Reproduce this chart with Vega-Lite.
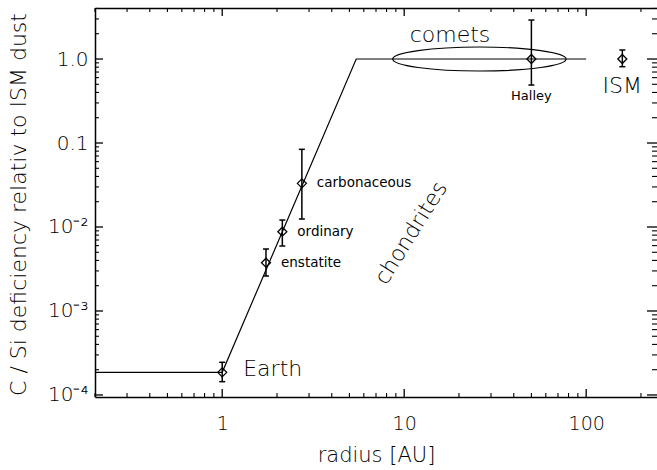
{
  "$schema": "https://vega.github.io/schema/vega-lite/v6.json",
  "width": 562,
  "height": 389,
  "autosize": {"type": "none"},
  "padding": {"left": 95, "top": 8, "right": 0, "bottom": 73},
  "background": "white",
  "config": {
    "view": {"stroke": null},
    "font": "DejaVu Sans",
    "axis": {"grid": false, "ticks": false, "domainColor": "black", "domainWidth": 1.5, "labelColor": "black", "titleColor": "black", "labelFont": "DejaVu Sans", "titleFont": "DejaVu Sans", "titleFontWeight": 200, "labelFontWeight": 200},
    "text": {"font": "DejaVu Sans", "color": "black", "fontWeight": 200}
  },
  "datasets": {
    "pts": [
      {"name": "Earth", "r": 1, "v": 0.000186, "lo": 0.000144, "hi": 0.000245},
      {"name": "enstatite", "r": 1.74, "v": 0.00376, "lo": 0.00261, "hi": 0.00547},
      {"name": "ordinary", "r": 2.14, "v": 0.00879, "lo": 0.00594, "hi": 0.0121},
      {"name": "carbonaceous", "r": 2.74, "v": 0.0331, "lo": 0.01245, "hi": 0.0841},
      {"name": "Halley", "r": 50, "v": 1.0, "lo": 0.49, "hi": 2.91},
      {"name": "ISM", "r": 158, "v": 1.0, "lo": 0.81, "hi": 1.28}
    ],
    "model": [
      {"r": 0.2, "v": 0.000186},
      {"r": 1, "v": 0.000186},
      {"r": 5.45, "v": 1.0},
      {"r": 100, "v": 1.0}
    ],
    "notes": [
      {"t": "comets", "r": 17.85, "v": 1.58, "g": "comets"},
      {"t": "chondrites", "r": 10.9, "v": 0.0085, "g": "rot"},
      {"t": "ellipse", "r": 25.9, "v": 1.0, "g": "ell"}
    ],
    "xMajor": [{"r": 1}, {"r": 10}, {"r": 100}],
    "xMinor": [{"r": 0.2},{"r": 0.3},{"r": 0.4},{"r": 0.5},{"r": 0.6},{"r": 0.7},{"r": 0.8},{"r": 0.9},{"r": 2},{"r": 3},{"r": 4},{"r": 5},{"r": 6},{"r": 7},{"r": 8},{"r": 9},{"r": 20},{"r": 30},{"r": 40},{"r": 50},{"r": 60},{"r": 70},{"r": 80},{"r": 90},{"r": 200}],
    "yMajor": [{"v": 0.0001}, {"v": 0.001}, {"v": 0.01}, {"v": 0.1}, {"v": 1}],
    "yMinor": [{"v": 0.0002},{"v": 0.0003},{"v": 0.0004},{"v": 0.0005},{"v": 0.0006},{"v": 0.0007},{"v": 0.0008},{"v": 0.0009},{"v": 0.002},{"v": 0.003},{"v": 0.004},{"v": 0.005},{"v": 0.006},{"v": 0.007},{"v": 0.008},{"v": 0.009},{"v": 0.02},{"v": 0.03},{"v": 0.04},{"v": 0.05},{"v": 0.06},{"v": 0.07},{"v": 0.08},{"v": 0.09},{"v": 0.2},{"v": 0.3},{"v": 0.4},{"v": 0.5},{"v": 0.6},{"v": 0.7},{"v": 0.8},{"v": 0.9},{"v": 2},{"v": 3},{"v": 4}]
  },
  "resolve": {"axis": {"x": "independent", "y": "independent"}},
  "layer": [
    {
      "data": {"name": "model"},
      "mark": {"type": "line", "color": "black", "strokeWidth": 1.2},
      "encoding": {
        "x": {"field": "r", "type": "quantitative", "scale": {"type": "log", "domain": [0.2, 245], "nice": false},
          "axis": {"orient": "bottom", "values": [1, 10, 100],
            "labelExpr": "format(datum.value, 'd')",
            "labelFontSize": 19, "labelPadding": 17, "labelBaseline": "top", "labelOverlap": false, "labelFlush": false,
            "title": "radius [AU]", "titleFontSize": 21, "titleY": 64, "titleBaseline": "alphabetic"}},
        "y": {"field": "v", "type": "quantitative", "scale": {"type": "log", "domain": [0.0000946, 4.05], "nice": false},
          "axis": {"orient": "left", "values": [0.0001, 0.001, 0.01, 0.1, 1],
            "labelExpr": "datum.value == 1 ? '1.0' : datum.value == 0.1 ? '0.1' : datum.value == 0.01 ? '10⁻²' : datum.value == 0.001 ? '10⁻³' : '10⁻⁴'",
            "labelFontSize": 20, "labelPadding": 7, "labelBaseline": "middle", "labelOverlap": false, "labelFlush": false,
            "title": "C / Si deficiency relativ to ISM dust", "titleFontSize": 22, "titleX": -77, "titleY": 196, "titleAngle": -90, "titleBaseline": "middle", "titleAlign": "center"}}
      }
    },
    {
      "data": {"name": "notes"},
      "transform": [{"filter": "datum.g == 'ell'"}],
      "mark": {"type": "point", "shape": "M-1,0A1,0.1384,0,1,0,1,0A1,0.1384,0,1,0,-1,0Z", "size": 30069, "filled": false, "color": "black", "strokeWidth": 1.2, "opacity": 1},
      "encoding": {
        "x": {"field": "r", "type": "quantitative", "scale": {"type": "log", "domain": [0.2, 245], "nice": false},
          "axis": {"orient": "top", "labels": false, "title": null, "values": [1, 10, 100]}},
        "y": {"field": "v", "type": "quantitative", "scale": {"type": "log", "domain": [0.0000946, 4.05], "nice": false}, "axis": null}
      }
    },
    {
      "data": {"name": "xMajor"},
      "mark": {"type": "point", "shape": "M0,0L0,-2", "size": 64, "filled": false, "color": "black", "strokeWidth": 1.3, "opacity": 1},
      "encoding": {
        "x": {"field": "r", "type": "quantitative", "scale": {"type": "log", "domain": [0.2, 245], "nice": false}, "axis": null},
        "y": {"datum": 0.0000946, "type": "quantitative", "scale": {"type": "log", "domain": [0.0000946, 4.05], "nice": false}, "axis": null}
      }
    },
    {
      "data": {"name": "xMajor"},
      "mark": {"type": "point", "shape": "M0,0L0,2", "size": 64, "filled": false, "color": "black", "strokeWidth": 1.3, "opacity": 1},
      "encoding": {
        "x": {"field": "r", "type": "quantitative", "scale": {"type": "log", "domain": [0.2, 245], "nice": false}, "axis": null},
        "y": {"datum": 4.05, "type": "quantitative", "scale": {"type": "log", "domain": [0.0000946, 4.05], "nice": false}, "axis": null}
      }
    },
    {
      "data": {"name": "xMinor"},
      "mark": {"type": "point", "shape": "M0,0L0,-2", "size": 16, "filled": false, "color": "black", "strokeWidth": 1.1, "opacity": 1},
      "encoding": {
        "x": {"field": "r", "type": "quantitative", "scale": {"type": "log", "domain": [0.2, 245], "nice": false}, "axis": null},
        "y": {"datum": 0.0000946, "type": "quantitative", "scale": {"type": "log", "domain": [0.0000946, 4.05], "nice": false}, "axis": null}
      }
    },
    {
      "data": {"name": "xMinor"},
      "mark": {"type": "point", "shape": "M0,0L0,2", "size": 16, "filled": false, "color": "black", "strokeWidth": 1.1, "opacity": 1},
      "encoding": {
        "x": {"field": "r", "type": "quantitative", "scale": {"type": "log", "domain": [0.2, 245], "nice": false}, "axis": null},
        "y": {"datum": 4.05, "type": "quantitative", "scale": {"type": "log", "domain": [0.0000946, 4.05], "nice": false}, "axis": null}
      }
    },
    {
      "data": {"name": "yMajor"},
      "mark": {"type": "point", "shape": "M0,0L2,0", "size": 64, "filled": false, "color": "black", "strokeWidth": 1.3, "opacity": 1},
      "encoding": {
        "y": {"field": "v", "type": "quantitative", "scale": {"type": "log", "domain": [0.0000946, 4.05], "nice": false}, "axis": null},
        "x": {"datum": 0.2, "type": "quantitative", "scale": {"type": "log", "domain": [0.2, 245], "nice": false}, "axis": null}
      }
    },
    {
      "data": {"name": "yMajor"},
      "mark": {"type": "point", "shape": "M0,0L-2,0", "size": 100, "filled": false, "color": "black", "strokeWidth": 1.3, "opacity": 1},
      "encoding": {
        "y": {"field": "v", "type": "quantitative", "scale": {"type": "log", "domain": [0.0000946, 4.05], "nice": false}, "axis": null},
        "x": {"datum": 245, "type": "quantitative", "scale": {"type": "log", "domain": [0.2, 245], "nice": false}, "axis": null}
      }
    },
    {
      "data": {"name": "yMinor"},
      "mark": {"type": "point", "shape": "M0,0L2,0", "size": 16, "filled": false, "color": "black", "strokeWidth": 1.1, "opacity": 1},
      "encoding": {
        "y": {"field": "v", "type": "quantitative", "scale": {"type": "log", "domain": [0.0000946, 4.05], "nice": false}, "axis": null},
        "x": {"datum": 0.2, "type": "quantitative", "scale": {"type": "log", "domain": [0.2, 245], "nice": false}, "axis": null}
      }
    },
    {
      "data": {"name": "yMinor"},
      "mark": {"type": "point", "shape": "M0,0L-2,0", "size": 25, "filled": false, "color": "black", "strokeWidth": 1.1, "opacity": 1},
      "encoding": {
        "y": {"field": "v", "type": "quantitative", "scale": {"type": "log", "domain": [0.0000946, 4.05], "nice": false}, "axis": null},
        "x": {"datum": 245, "type": "quantitative", "scale": {"type": "log", "domain": [0.2, 245], "nice": false}, "axis": null}
      }
    },
    {
      "data": {"name": "pts"},
      "mark": {"type": "rule", "color": "black", "strokeWidth": 1.5},
      "encoding": {
        "x": {"field": "r", "type": "quantitative", "scale": {"type": "log", "domain": [0.2, 245], "nice": false}, "axis": null},
        "y": {"field": "lo", "type": "quantitative", "scale": {"type": "log", "domain": [0.0000946, 4.05], "nice": false}, "axis": null},
        "y2": {"field": "hi"}
      }
    },
    {
      "data": {"name": "pts"},
      "mark": {"type": "point", "shape": "M-1,0L1,0", "size": 36, "filled": false, "color": "black", "strokeWidth": 1.5, "opacity": 1},
      "encoding": {
        "x": {"field": "r", "type": "quantitative", "scale": {"type": "log", "domain": [0.2, 245], "nice": false}, "axis": null},
        "y": {"field": "lo", "type": "quantitative", "scale": {"type": "log", "domain": [0.0000946, 4.05], "nice": false}, "axis": null}
      }
    },
    {
      "data": {"name": "pts"},
      "mark": {"type": "point", "shape": "M-1,0L1,0", "size": 36, "filled": false, "color": "black", "strokeWidth": 1.5, "opacity": 1},
      "encoding": {
        "x": {"field": "r", "type": "quantitative", "scale": {"type": "log", "domain": [0.2, 245], "nice": false}, "axis": null},
        "y": {"field": "hi", "type": "quantitative", "scale": {"type": "log", "domain": [0.0000946, 4.05], "nice": false}, "axis": null}
      }
    },
    {
      "data": {"name": "pts"},
      "mark": {"type": "point", "shape": "diamond", "size": 81, "filled": false, "color": "black", "strokeWidth": 1.3, "opacity": 1},
      "encoding": {
        "x": {"field": "r", "type": "quantitative", "scale": {"type": "log", "domain": [0.2, 245], "nice": false}, "axis": null},
        "y": {"field": "v", "type": "quantitative", "scale": {"type": "log", "domain": [0.0000946, 4.05], "nice": false}, "axis": null}
      }
    },
    {
      "data": {"name": "pts"},
      "transform": [{"filter": "indexof(['enstatite','ordinary','carbonaceous'], datum.name) >= 0"}],
      "mark": {"type": "text", "align": "left", "baseline": "middle", "dx": 15, "fontSize": 13.5, "fontWeight": "normal"},
      "encoding": {
        "x": {"field": "r", "type": "quantitative", "scale": {"type": "log", "domain": [0.2, 245], "nice": false}, "axis": null},
        "y": {"field": "v", "type": "quantitative", "scale": {"type": "log", "domain": [0.0000946, 4.05], "nice": false}, "axis": null},
        "text": {"field": "name"}
      }
    },
    {
      "data": {"name": "pts"},
      "transform": [{"filter": "datum.name == 'Earth'"}],
      "mark": {"type": "text", "align": "left", "baseline": "alphabetic", "dx": 21, "dy": 4, "fontSize": 22},
      "encoding": {
        "x": {"field": "r", "type": "quantitative", "scale": {"type": "log", "domain": [0.2, 245], "nice": false}, "axis": null},
        "y": {"field": "v", "type": "quantitative", "scale": {"type": "log", "domain": [0.0000946, 4.05], "nice": false}, "axis": null},
        "text": {"field": "name"}
      }
    },
    {
      "data": {"name": "pts"},
      "transform": [{"filter": "datum.name == 'ISM'"}],
      "mark": {"type": "text", "align": "center", "baseline": "alphabetic", "dy": 34, "fontSize": 22},
      "encoding": {
        "x": {"field": "r", "type": "quantitative", "scale": {"type": "log", "domain": [0.2, 245], "nice": false}, "axis": null},
        "y": {"field": "v", "type": "quantitative", "scale": {"type": "log", "domain": [0.0000946, 4.05], "nice": false}, "axis": null},
        "text": {"field": "name"}
      }
    },
    {
      "data": {"name": "pts"},
      "transform": [{"filter": "datum.name == 'Halley'"}],
      "mark": {"type": "text", "align": "center", "baseline": "alphabetic", "dy": 41, "fontSize": 13, "fontWeight": "normal"},
      "encoding": {
        "x": {"field": "r", "type": "quantitative", "scale": {"type": "log", "domain": [0.2, 245], "nice": false}, "axis": null},
        "y": {"field": "v", "type": "quantitative", "scale": {"type": "log", "domain": [0.0000946, 4.05], "nice": false}, "axis": null},
        "text": {"field": "name"}
      }
    },
    {
      "data": {"name": "notes"},
      "transform": [{"filter": "datum.g == 'comets'"}],
      "mark": {"type": "text", "align": "center", "baseline": "alphabetic", "fontSize": 22},
      "encoding": {
        "x": {"field": "r", "type": "quantitative", "scale": {"type": "log", "domain": [0.2, 245], "nice": false}, "axis": null},
        "y": {"field": "v", "type": "quantitative", "scale": {"type": "log", "domain": [0.0000946, 4.05], "nice": false}, "axis": null},
        "text": {"field": "t"}
      }
    },
    {
      "data": {"name": "notes"},
      "transform": [{"filter": "datum.g == 'rot'"}],
      "mark": {"type": "text", "align": "center", "baseline": "middle", "angle": 302, "fontSize": 22},
      "encoding": {
        "x": {"field": "r", "type": "quantitative", "scale": {"type": "log", "domain": [0.2, 245], "nice": false}, "axis": null},
        "y": {"field": "v", "type": "quantitative", "scale": {"type": "log", "domain": [0.0000946, 4.05], "nice": false}, "axis": null},
        "text": {"field": "t"}
      }
    }
  ]
}
